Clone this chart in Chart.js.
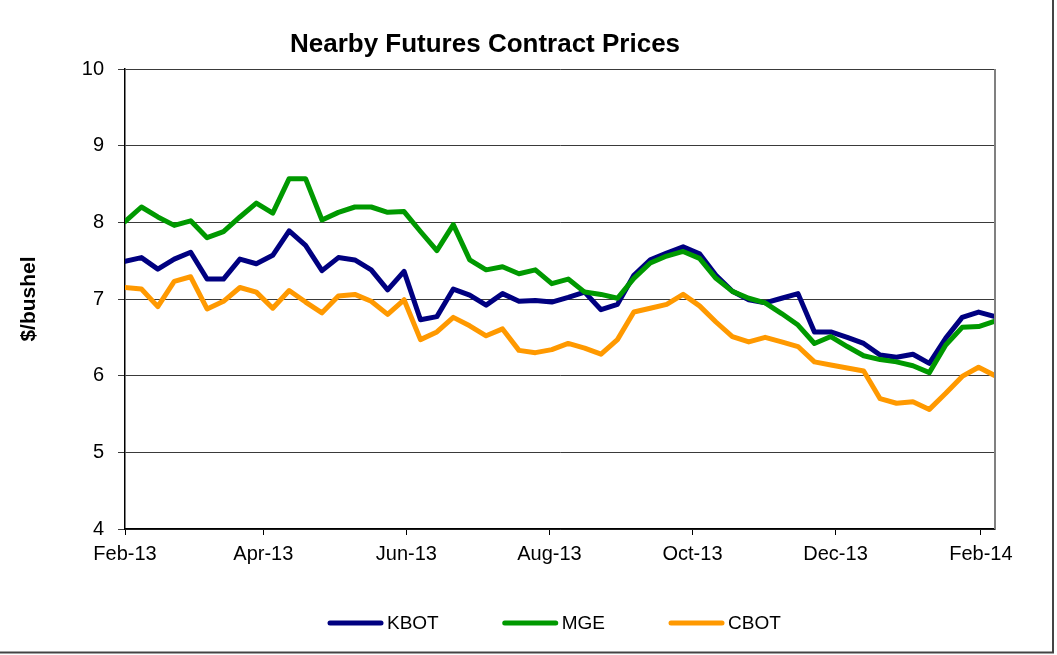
<!DOCTYPE html>
<html>
<head>
<meta charset="utf-8">
<title>Nearby Futures Contract Prices</title>
<script src="https://cdn.jsdelivr.net/npm/chart.js@4.4.0/dist/chart.umd.min.js"></script>
<style>
  html, body { margin: 0; padding: 0; background: #fff; }
  canvas { display: block; }
</style>
</head>
<body>
<canvas id="chart" width="1057" height="655"></canvas>
<script>
/* ── Data (weekly, $/bushel) ─────────────────────────────────── */
const DATES = [
  '2013-02-01','2013-02-08','2013-02-15','2013-02-22','2013-03-01','2013-03-08','2013-03-15','2013-03-22','2013-03-29',
  '2013-04-05','2013-04-12','2013-04-19','2013-04-26','2013-05-03','2013-05-10','2013-05-17','2013-05-24','2013-05-31',
  '2013-06-07','2013-06-14','2013-06-21','2013-06-28','2013-07-05','2013-07-12','2013-07-19','2013-07-26',
  '2013-08-02','2013-08-09','2013-08-16','2013-08-23','2013-08-30','2013-09-06','2013-09-13','2013-09-20','2013-09-27',
  '2013-10-04','2013-10-11','2013-10-18','2013-10-25','2013-11-01','2013-11-08','2013-11-15','2013-11-22','2013-11-29',
  '2013-12-06','2013-12-13','2013-12-20','2013-12-27','2014-01-03','2014-01-10','2014-01-17','2014-01-24','2014-01-31',
  '2014-02-07',
];

const KBOT = [
  7.49, 7.54, 7.39, 7.52, 7.61, 7.26, 7.26, 7.52, 7.46, 7.57, 7.89, 7.70, 7.37, 7.54, 7.51, 7.38, 7.12, 7.36,
  6.73, 6.77, 7.13, 7.05, 6.92, 7.07, 6.97, 6.98, 6.96, 7.02, 7.09, 6.86, 6.93, 7.31, 7.51, 7.60, 7.68,
  7.59, 7.31, 7.10, 6.99, 6.95, 7.01, 7.07, 6.57, 6.57, 6.50, 6.42, 6.27, 6.24, 6.28, 6.16, 6.49, 6.76, 6.83, 6.77,
];

const MGE = [
  8.01, 8.20, 8.07, 7.96, 8.02, 7.80, 7.88, 8.07, 8.25, 8.12, 8.57, 8.57, 8.03, 8.13, 8.20, 8.20, 8.13, 8.14,
  7.88, 7.63, 7.97, 7.51, 7.38, 7.42, 7.33, 7.38, 7.20, 7.26, 7.09, 7.06, 7.01, 7.27, 7.47, 7.56, 7.62,
  7.53, 7.27, 7.10, 7.01, 6.95, 6.81, 6.66, 6.42, 6.51, 6.38, 6.26, 6.21, 6.18, 6.13, 6.04, 6.40, 6.63, 6.64, 6.71,
];

const CBOT = [
  7.15, 7.13, 6.90, 7.23, 7.29, 6.87, 6.97, 7.15, 7.09, 6.88, 7.11, 6.96, 6.82, 7.04, 7.06, 6.97, 6.80, 6.99,
  6.47, 6.57, 6.76, 6.65, 6.52, 6.61, 6.33, 6.30, 6.34, 6.42, 6.36, 6.28, 6.47, 6.83, 6.88, 6.93, 7.06,
  6.91, 6.70, 6.51, 6.44, 6.50, 6.44, 6.38, 6.18, 6.14, 6.10, 6.06, 5.70, 5.64, 5.66, 5.56, 5.77, 5.99, 6.11, 6.00,
];

const TICK_DATES  = ['2013-02-01','2013-04-01','2013-06-01','2013-08-01','2013-10-01','2013-12-01','2014-02-01'];
const TICK_LABELS = ['Feb-13','Apr-13','Jun-13','Aug-13','Oct-13','Dec-13','Feb-14'];

/* ── helpers ─────────────────────────────────────────────────── */
const DAY = 86400000;
const t0 = Date.parse(DATES[0]);
const dayOf = d => Math.round((Date.parse(d) - t0) / DAY);
const TICK_DAYS = TICK_DATES.map(dayOf);
const series = arr => DATES.map((d, i) => ({ x: dayOf(d), y: arr[i] }));

const FONT = "'Liberation Sans', Arial, Helvetica, sans-serif";
Chart.defaults.font.family = FONT;
Chart.defaults.color = '#000';

// title, legend and frame are drawn by hand to sit where the Excel chart put them
const framePlugin = {
  id: 'frame',
  afterDraw(chart) {
    const { ctx, chartArea: a } = chart;
    ctx.save();

    // plot area right edge (grey)
    ctx.strokeStyle = '#808080';
    ctx.lineWidth = 2;
    ctx.beginPath();
    ctx.moveTo(a.right, a.top);
    ctx.lineTo(a.right, a.bottom);
    ctx.stroke();

    // outer chart border (right + bottom)
    ctx.strokeStyle = '#444';
    ctx.lineWidth = 2;
    ctx.beginPath();
    ctx.moveTo(1053, 0);
    ctx.lineTo(1053, 652.5);
    ctx.lineTo(0, 652.5);
    ctx.stroke();

    // title
    ctx.fillStyle = '#000';
    ctx.font = `bold 26px ${FONT}`;
    ctx.textAlign = 'center';
    ctx.textBaseline = 'alphabetic';
    ctx.fillText('Nearby Futures Contract Prices', 485, 52);

    // legend
    ctx.font = `19px ${FONT}`;
    ctx.textAlign = 'left';
    let x = 328;
    const y = 623;
    chart.data.datasets.forEach(ds => {
      ctx.strokeStyle = ds.borderColor;
      ctx.lineWidth = 5;
      ctx.lineCap = 'round';
      ctx.beginPath();
      ctx.moveTo(x + 2, y);
      ctx.lineTo(x + 53, y);
      ctx.stroke();
      ctx.fillText(ds.label, x + 59, 629);
      x += 59 + ctx.measureText(ds.label).width + 64;
    });

    ctx.restore();
  },
};

new Chart(document.getElementById('chart'), {
  type: 'line',
  data: {
    datasets: [
      { label: 'KBOT', data: series(KBOT), borderColor: '#000080', order: 3 },
      { label: 'MGE',  data: series(MGE),  borderColor: '#009900', order: 2 },
      { label: 'CBOT', data: series(CBOT), borderColor: '#ff9900', order: 1 },
    ],
  },
  options: {
    responsive: false,
    animation: false,
    layout: { padding: { left: 0, right: 62, top: 69, bottom: 0 } },
    elements: {
      point: { radius: 0, hoverRadius: 0 },
      line: { borderWidth: 5, tension: 0, borderJoinStyle: 'round', borderCapStyle: 'round', fill: false },
    },
    plugins: {
      legend: { display: false },
      title: { display: false },
      tooltip: { enabled: false },
    },
    scales: {
      x: {
        type: 'linear',
        min: 0,
        max: dayOf(DATES[DATES.length - 1]),
        afterBuildTicks: s => { s.ticks = TICK_DAYS.map(v => ({ value: v })); },
        afterFit: s => { s.height = 126; },
        ticks: {
          autoSkip: false, maxRotation: 0, padding: 7,
          font: { size: 20 }, color: '#000',
          callback: v => TICK_LABELS[TICK_DAYS.indexOf(v)] ?? '',
        },
        grid: { drawOnChartArea: false, drawTicks: true, tickLength: 6, color: '#000' },
        border: { color: '#000', width: 1.5 },
      },
      y: {
        min: 4,
        max: 10,
        afterFit: s => { s.width = 125; },
        ticks: { stepSize: 1, padding: 14, font: { size: 20 }, color: '#000' },
        grid: { color: '#3a3a3a', lineWidth: 1, tickLength: 7 },
        border: { color: '#000', width: 1.5 },
        title: {
          display: true, text: '$/bushel', color: '#000',
          font: { size: 21, weight: 'bold' },
          padding: { top: 17, bottom: 0 },
        },
      },
    },
  },
  plugins: [framePlugin],
});
</script>
</body>
</html>
